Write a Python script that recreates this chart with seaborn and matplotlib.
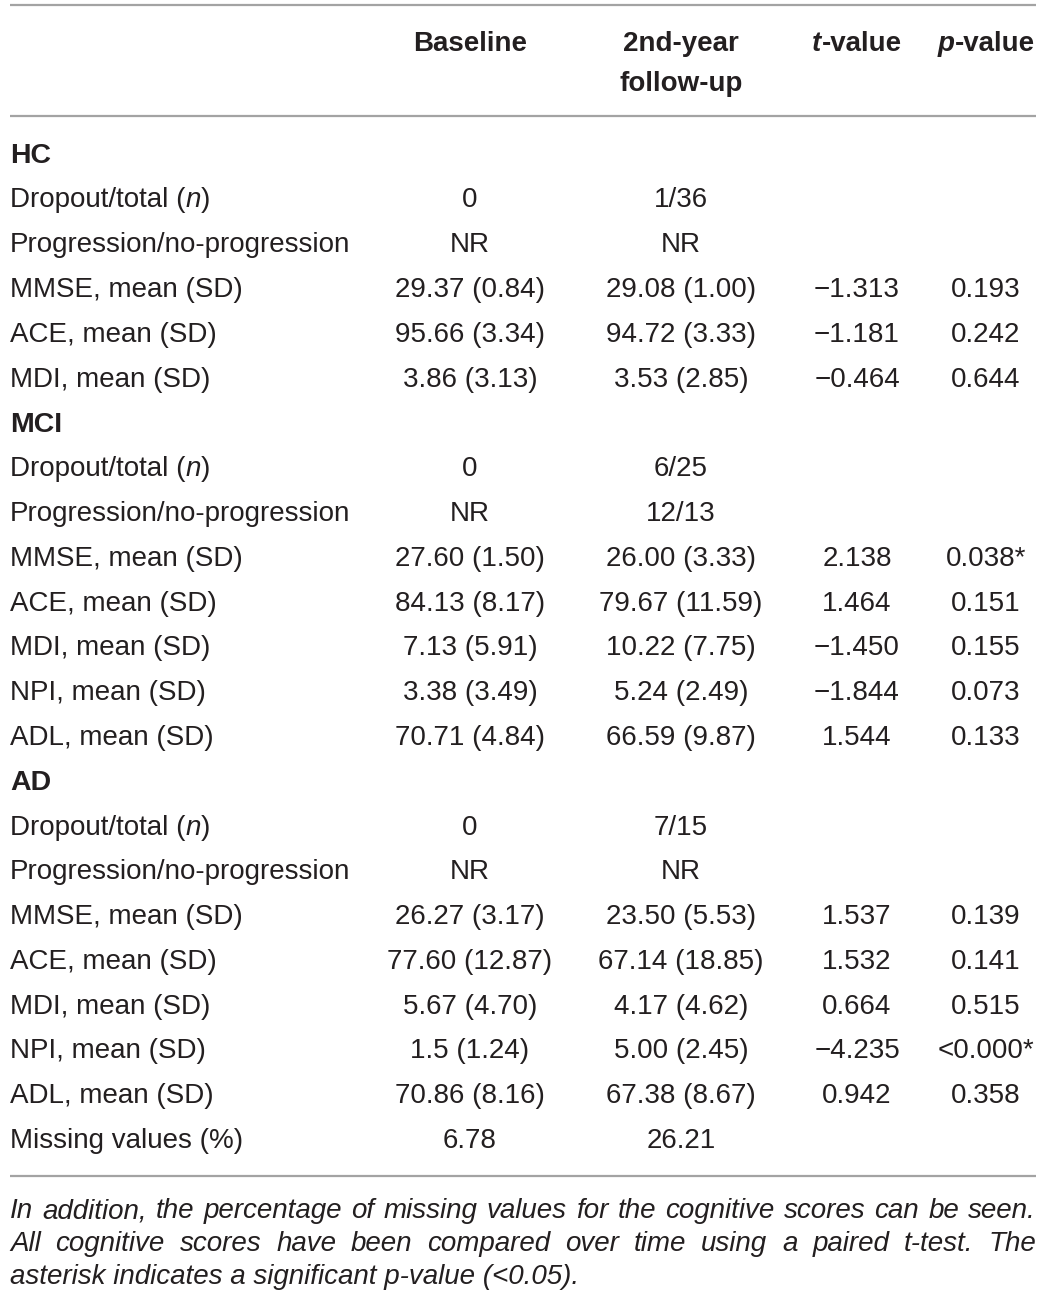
import matplotlib
matplotlib.use("Agg")
import matplotlib.pyplot as plt
import seaborn as sns

# ---------------- data ----------------
columns = ["Baseline", "2nd-year\nfollow-up", "t-value", "p-value"]
groups = ["HC", "MCI", "AD"]

hc_labels = ["Dropout/total (n)", "Progression/no-progression", "MMSE, mean (SD)",
             "ACE, mean (SD)", "MDI, mean (SD)"]
hc_baseline = ["0", "NR", "29.37 (0.84)", "95.66 (3.34)", "3.86 (3.13)"]
hc_followup = ["1/36", "NR", "29.08 (1.00)", "94.72 (3.33)", "3.53 (2.85)"]
hc_t = ["", "", "\u22121.313", "\u22121.181", "\u22120.464"]
hc_p = ["", "", "0.193", "0.242", "0.644"]

mci_labels = ["Dropout/total (n)", "Progression/no-progression", "MMSE, mean (SD)",
              "ACE, mean (SD)", "MDI, mean (SD)", "NPI, mean (SD)", "ADL, mean (SD)"]
mci_baseline = ["0", "NR", "27.60 (1.50)", "84.13 (8.17)", "7.13 (5.91)",
                "3.38 (3.49)", "70.71 (4.84)"]
mci_followup = ["6/25", "12/13", "26.00 (3.33)", "79.67 (11.59)", "10.22 (7.75)",
                "5.24 (2.49)", "66.59 (9.87)"]
mci_t = ["", "", "2.138", "1.464", "\u22121.450", "\u22121.844", "1.544"]
mci_p = ["", "", "0.038*", "0.151", "0.155", "0.073", "0.133"]

ad_labels = ["Dropout/total (n)", "Progression/no-progression", "MMSE, mean (SD)",
             "ACE, mean (SD)", "MDI, mean (SD)", "NPI, mean (SD)", "ADL, mean (SD)"]
ad_baseline = ["0", "NR", "26.27 (3.17)", "77.60 (12.87)", "5.67 (4.70)",
               "1.5 (1.24)", "70.86 (8.16)"]
ad_followup = ["7/15", "NR", "23.50 (5.53)", "67.14 (18.85)", "4.17 (4.62)",
               "5.00 (2.45)", "67.38 (8.67)"]
ad_t = ["", "", "1.537", "1.532", "0.664", "\u22124.235", "0.942"]
ad_p = ["", "", "0.139", "0.141", "0.515", "<0.000*", "0.358"]

missing_label = "Missing values (%)"
missing_baseline = "6.78"
missing_followup = "26.21"

footnote_lines = [
    "In addition, the percentage of missing values for the cognitive scores can be seen.",
    "All cognitive scores have been compared over time using a paired t-test. The",
    "asterisk indicates a significant p-value (<0.05).",
]

# ---------------- style / layout ----------------
sns.set_theme(style="white")
plt.rcParams["font.family"] = ["Liberation Sans", "DejaVu Sans"]

W, H = 1044, 1299
TXT = "#231f20"
LINE = "#a3a3a3"
FS = 20
FS_FOOT = 20

fig = plt.figure(figsize=(W / 100, H / 100), dpi=100)
ax = fig.add_axes([0, 0, 1, 1])
ax.set_xlim(0, W)
ax.set_ylim(H, 0)
ax.axis("off")

renderer = fig.canvas.get_renderer()


def seg_width(s, **kw):
    t = ax.text(0, 0, s, **kw)
    bb = t.get_window_extent(renderer)
    t.remove()
    return bb.width


def rich(x, y, segs, ha="center", size=FS, weight="normal"):
    """segs: list of (text, style)"""
    widths = [seg_width(s, fontsize=size, style=st, weight=weight) for s, st in segs]
    total = sum(widths)
    if ha == "center":
        x0 = x - total / 2
    elif ha == "right":
        x0 = x - total
    else:
        x0 = x
    for (s, st), w in zip(segs, widths):
        ax.text(x0, y, s, fontsize=size, style=st, weight=weight, color=TXT,
                ha="left", va="baseline")
        x0 += w


def label_segs(lbl):
    if "(n)" in lbl:
        a = lbl.replace("(n)", "(")
        return [(a, "normal"), ("n", "italic"), (")", "normal")]
    return [(lbl, "normal")]


LEFT, RIGHT = 10, 1036
col_x = [470, 681, 857, 986]

# rules
ax.plot([LEFT, RIGHT], [5, 5], color=LINE, lw=1.6, solid_capstyle="butt")
ax.plot([LEFT, RIGHT], [116, 116], color=LINE, lw=1.6, solid_capstyle="butt")
ax.plot([LEFT, RIGHT], [1176, 1176], color=LINE, lw=1.6, solid_capstyle="butt")

# header
OFF = 10
rich(col_x[0], 41 + OFF, [("Baseline", "normal")], weight="bold")
rich(col_x[1], 41 + OFF, [("2nd-year", "normal")], weight="bold")
rich(col_x[1], 81 + OFF, [("follow-up", "normal")], weight="bold")
rich(col_x[2], 41 + OFF, [("t", "italic"), ("-value", "normal")], weight="bold")
rich(col_x[3], 41 + OFF, [("p", "italic"), ("-value", "normal")], weight="bold")

# body
y0, step = 152.5, 44.8
row = 0
blocks = [
    (groups[0], hc_labels, hc_baseline, hc_followup, hc_t, hc_p),
    (groups[1], mci_labels, mci_baseline, mci_followup, mci_t, mci_p),
    (groups[2], ad_labels, ad_baseline, ad_followup, ad_t, ad_p),
]
for g, labels, b, f, t, p in blocks:
    y = y0 + row * step
    rich(LEFT, y + OFF + 0.5, [(g, "normal")], ha="left", weight="bold", size=FS + 0.5)
    row += 1
    for i, lbl in enumerate(labels):
        y = y0 + row * step + OFF
        rich(LEFT, y, label_segs(lbl), ha="left")
        for cx, val in zip(col_x, [b[i], f[i], t[i], p[i]]):
            if val:
                rich(cx, y, [(val, "normal")])
        row += 1

y = y0 + row * step + OFF
rich(LEFT, y, [(missing_label, "normal")], ha="left")
rich(col_x[0], y, [(missing_baseline, "normal")])
rich(col_x[1], y, [(missing_followup, "normal")])

# footnote (justified italic; last line left-aligned)
foot_y = [1210, 1243, 1276]
for k, (line, fy) in enumerate(zip(footnote_lines, foot_y)):
    if k == len(footnote_lines) - 1:
        ax.text(LEFT, fy + 8, line, fontsize=FS_FOOT, style="italic", color=TXT,
                ha="left", va="baseline")
        continue
    words = line.split(" ")
    ws = [seg_width(w, fontsize=FS_FOOT, style="italic") for w in words]
    gap = (RIGHT - LEFT - sum(ws)) / (len(words) - 1)
    xx = LEFT
    for w, wd in zip(words, ws):
        ax.text(xx, fy + 8, w, fontsize=FS_FOOT, style="italic", color=TXT,
                ha="left", va="baseline")
        xx += wd + gap

fig.savefig("out.png", dpi=100)
